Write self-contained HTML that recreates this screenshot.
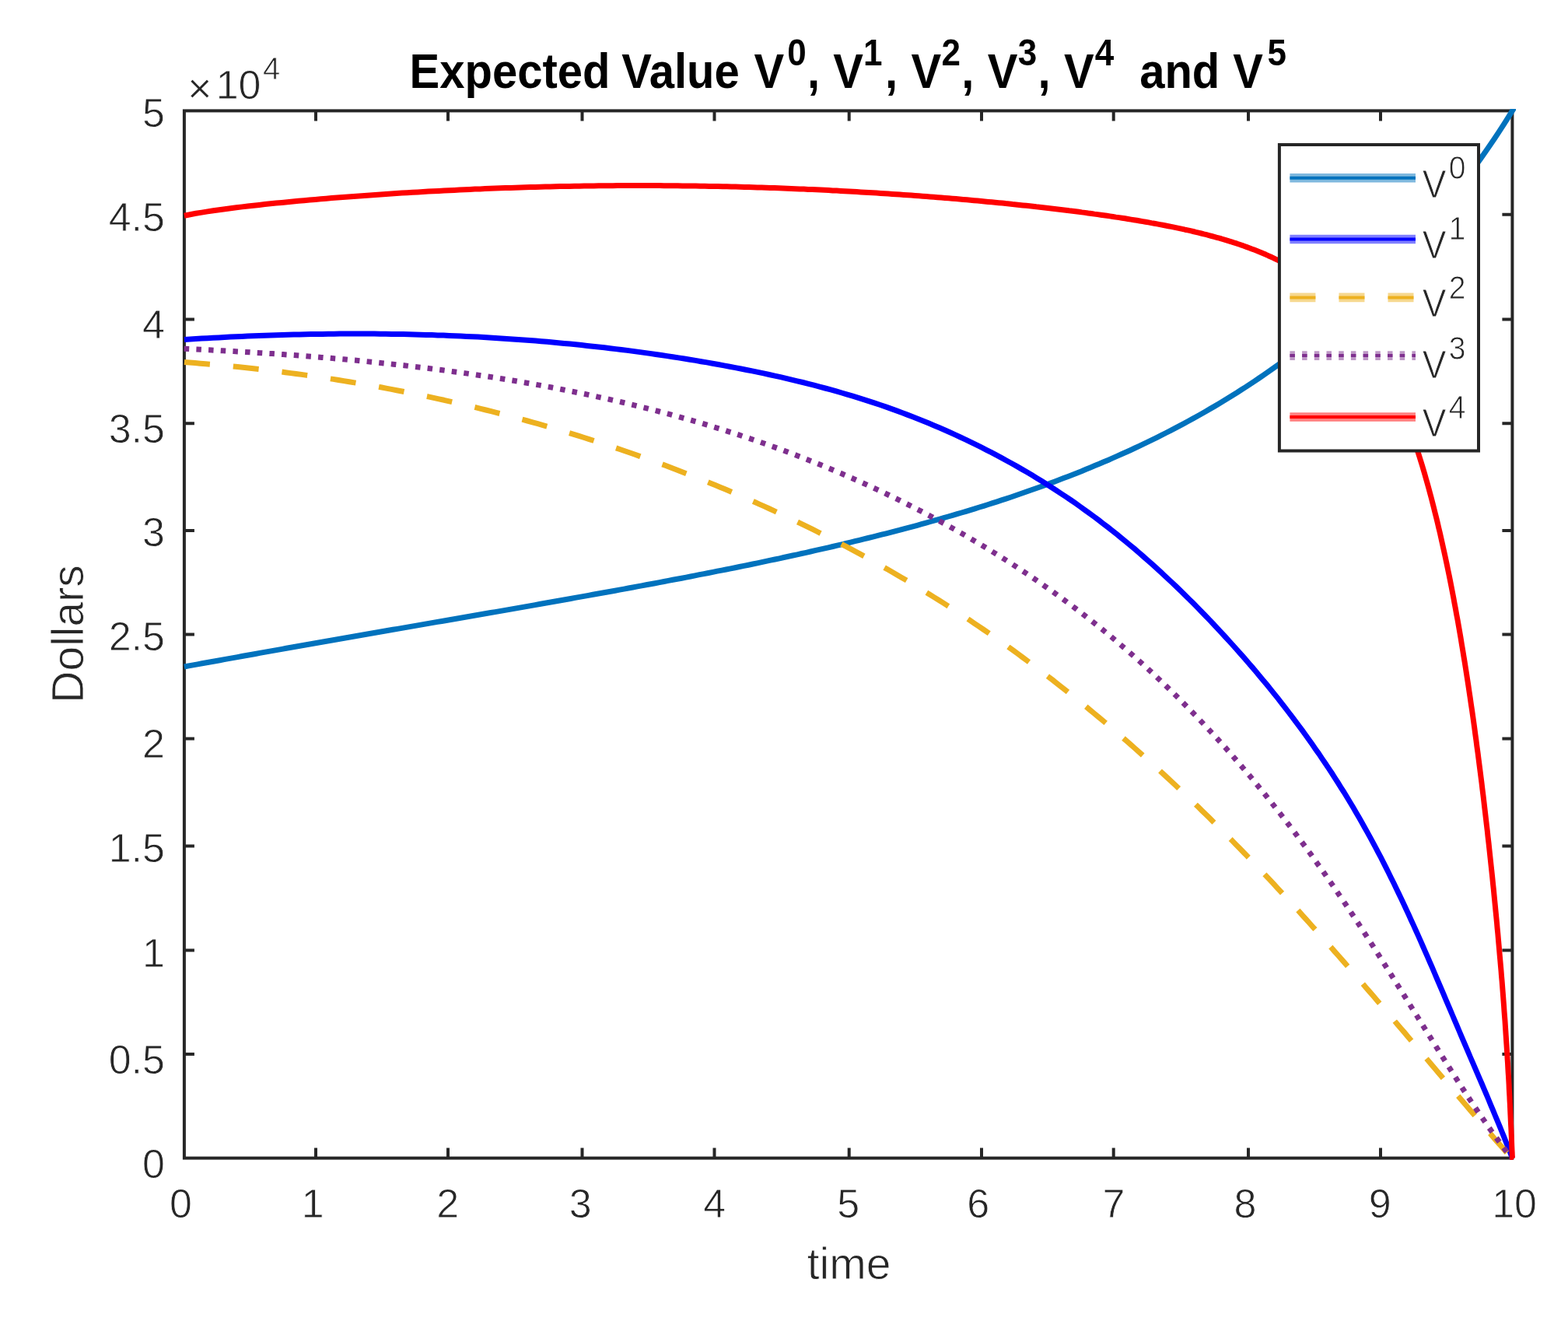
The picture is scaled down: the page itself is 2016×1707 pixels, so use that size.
<!DOCTYPE html>
<html lang="en"><head><meta charset="utf-8"><title>Expected Value</title>
<style>
html,body{margin:0;padding:0;background:#fff;}
body{width:2016px;height:1707px;overflow:hidden;}
svg{display:block;filter:blur(0.7px);}
text{font-family:"Liberation Sans",Arial,Helvetica,sans-serif;}
.tk{font-size:52px;fill:#262626;stroke:#fff;stroke-width:0.8px;}
.lb{font-size:57px;fill:#262626;stroke:#fff;stroke-width:0.8px;}
.ti{font-size:58px;font-weight:bold;fill:#000;}
.ts{font-size:44px;font-weight:bold;fill:#000;}
.lg{font-size:46px;fill:#262626;stroke:#fff;stroke-width:0.8px;}
.ls{font-size:39px;fill:#262626;stroke:#fff;stroke-width:0.8px;}
</style></head><body>
<svg width="2016" height="1707" viewBox="0 0 2016 1707">
<rect width="2016" height="1707" fill="#fff"/>
<defs><clipPath id="cp"><rect x="234.9" y="139.9" width="1714.0" height="1351.2"/></clipPath></defs>

<rect x="236.9" y="142.4" width="1707.5" height="1346.2" fill="none" stroke="#262626" stroke-width="4.0"/>
<path d="M406.0,1488.6 v-13 M406.0,142.4 v13 M576.0,1488.6 v-13 M576.0,142.4 v13 M748.5,1488.6 v-13 M748.5,142.4 v13 M918.5,1488.6 v-13 M918.5,142.4 v13 M1091.7,1488.6 v-13 M1091.7,142.4 v13 M1262.0,1488.6 v-13 M1262.0,142.4 v13 M1431.7,1488.6 v-13 M1431.7,142.4 v13 M1605.0,1488.6 v-13 M1605.0,142.4 v13 M1775.0,1488.6 v-13 M1775.0,142.4 v13 M236.9,275.7 h13 M1944.4,275.7 h-13 M236.9,410.5 h13 M1944.4,410.5 h-13 M236.9,544.2 h13 M1944.4,544.2 h-13 M236.9,682.0 h13 M1944.4,682.0 h-13 M236.9,815.6 h13 M1944.4,815.6 h-13 M236.9,949.5 h13 M1944.4,949.5 h-13 M236.9,1087.5 h13 M1944.4,1087.5 h-13 M236.9,1221.5 h13 M1944.4,1221.5 h-13 M236.9,1355.0 h13 M1944.4,1355.0 h-13" fill="none" stroke="#262626" stroke-width="4.0"/>
<g clip-path="url(#cp)" fill="none" stroke-linejoin="round">
<path d="M236.9,857.0 L242.6,855.9 L248.3,854.9 L254.0,853.9 L259.7,852.8 L265.5,851.8 L271.2,850.7 L276.9,849.7 L282.6,848.7 L288.3,847.6 L294.0,846.6 L299.7,845.6 L305.4,844.6 L311.1,843.5 L316.8,842.5 L322.6,841.5 L328.3,840.5 L334.0,839.4 L339.7,838.4 L345.4,837.4 L351.1,836.4 L356.8,835.4 L362.5,834.4 L368.2,833.3 L374.0,832.3 L379.7,831.3 L385.4,830.3 L391.1,829.3 L396.8,828.3 L402.5,827.3 L408.2,826.3 L413.9,825.3 L419.6,824.3 L425.4,823.3 L431.1,822.3 L436.8,821.3 L442.5,820.3 L448.2,819.3 L453.9,818.3 L459.6,817.3 L465.3,816.3 L471.0,815.3 L476.7,814.3 L482.5,813.3 L488.2,812.3 L493.9,811.3 L499.6,810.3 L505.3,809.3 L511.0,808.4 L516.7,807.4 L522.4,806.4 L528.1,805.4 L533.9,804.4 L539.6,803.4 L545.3,802.4 L551.0,801.4 L556.7,800.4 L562.4,799.4 L568.1,798.5 L573.8,797.5 L579.5,796.5 L585.3,795.5 L591.0,794.5 L596.7,793.5 L602.4,792.5 L608.1,791.5 L613.8,790.5 L619.5,789.5 L625.2,788.5 L630.9,787.5 L636.6,786.6 L642.4,785.6 L648.1,784.6 L653.8,783.6 L659.5,782.6 L665.2,781.6 L670.9,780.6 L676.6,779.6 L682.3,778.6 L688.0,777.6 L693.8,776.5 L699.5,775.5 L705.2,774.5 L710.9,773.5 L716.6,772.5 L722.3,771.5 L728.0,770.5 L733.7,769.5 L739.4,768.4 L745.2,767.4 L750.9,766.4 L756.6,765.4 L762.3,764.3 L768.0,763.3 L773.7,762.3 L779.4,761.2 L785.1,760.2 L790.8,759.2 L796.5,758.1 L802.3,757.1 L808.0,756.0 L813.7,755.0 L819.4,753.9 L825.1,752.9 L830.8,751.8 L836.5,750.7 L842.2,749.7 L847.9,748.6 L853.7,747.5 L859.4,746.4 L865.1,745.3 L870.8,744.3 L876.5,743.2 L882.2,742.1 L887.9,741.0 L893.6,739.9 L899.3,738.7 L905.1,737.6 L910.8,736.5 L916.5,735.4 L922.2,734.2 L927.9,733.1 L933.6,732.0 L939.3,730.8 L945.0,729.7 L950.7,728.5 L956.4,727.3 L962.2,726.2 L967.9,725.0 L973.6,723.8 L979.3,722.6 L985.0,721.4 L990.7,720.2 L996.4,719.0 L1002.1,717.8 L1007.8,716.5 L1013.6,715.3 L1019.3,714.0 L1025.0,712.8 L1030.7,711.5 L1036.4,710.3 L1042.1,709.0 L1047.8,707.7 L1053.5,706.4 L1059.2,705.1 L1065.0,703.8 L1070.7,702.5 L1076.4,701.1 L1082.1,699.8 L1087.8,698.4 L1093.5,697.1 L1099.2,695.7 L1104.9,694.3 L1110.6,692.9 L1116.3,691.5 L1122.1,690.1 L1127.8,688.7 L1133.5,687.2 L1139.2,685.8 L1144.9,684.3 L1150.6,682.8 L1156.3,681.4 L1162.0,679.8 L1167.7,678.3 L1173.5,676.8 L1179.2,675.3 L1184.9,673.7 L1190.6,672.1 L1196.3,670.5 L1202.0,668.9 L1207.7,667.3 L1213.4,665.7 L1219.1,664.0 L1224.9,662.4 L1230.6,660.7 L1236.3,659.0 L1242.0,657.3 L1247.7,655.6 L1253.4,653.8 L1259.1,652.0 L1264.8,650.3 L1270.5,648.5 L1276.2,646.6 L1282.0,644.8 L1287.7,642.9 L1293.4,641.1 L1299.1,639.2 L1304.8,637.2 L1310.5,635.3 L1316.2,633.3 L1321.9,631.3 L1327.6,629.3 L1333.4,627.3 L1339.1,625.2 L1344.8,623.2 L1350.5,621.1 L1356.2,618.9 L1361.9,616.8 L1367.6,614.6 L1373.3,612.4 L1379.0,610.2 L1384.8,607.9 L1390.5,605.7 L1396.2,603.3 L1401.9,601.0 L1407.6,598.6 L1413.3,596.3 L1419.0,593.8 L1424.7,591.4 L1430.4,588.9 L1436.1,586.4 L1441.9,583.8 L1447.6,581.3 L1453.3,578.7 L1459.0,576.0 L1464.7,573.3 L1470.4,570.6 L1476.1,567.9 L1481.8,565.1 L1487.5,562.3 L1493.3,559.4 L1499.0,556.5 L1504.7,553.6 L1510.4,550.6 L1516.1,547.6 L1521.8,544.6 L1527.5,541.5 L1533.2,538.4 L1538.9,535.2 L1544.7,532.0 L1550.4,528.7 L1556.1,525.4 L1561.8,522.1 L1567.5,518.7 L1573.2,515.3 L1578.9,511.8 L1584.6,508.2 L1590.3,504.7 L1596.0,501.0 L1601.8,497.4 L1607.5,493.6 L1613.2,489.8 L1618.9,486.0 L1624.6,482.1 L1630.3,478.2 L1636.0,474.2 L1641.7,470.1 L1647.4,466.0 L1653.2,461.8 L1658.9,457.6 L1664.6,453.3 L1670.3,449.0 L1676.0,444.5 L1681.7,440.1 L1687.4,435.5 L1693.1,430.9 L1698.8,426.2 L1704.6,421.5 L1710.3,416.7 L1716.0,411.8 L1721.7,406.8 L1727.4,401.8 L1733.1,396.7 L1738.8,391.5 L1744.5,386.3 L1750.2,381.0 L1755.9,375.6 L1761.7,370.1 L1767.4,364.5 L1773.1,358.9 L1778.8,353.2 L1784.5,347.3 L1790.2,341.4 L1795.9,335.5 L1801.6,329.4 L1807.3,323.2 L1813.1,317.0 L1818.8,310.6 L1824.5,304.2 L1830.2,297.6 L1835.9,291.0 L1841.6,284.2 L1847.3,277.4 L1853.0,270.4 L1858.7,263.4 L1864.5,256.2 L1870.2,249.0 L1875.9,241.6 L1881.6,234.1 L1887.3,226.5 L1893.0,218.7 L1898.7,210.9 L1904.4,202.9 L1910.1,194.7 L1915.8,186.5 L1921.6,178.0 L1927.3,169.4 L1933.0,160.6 L1938.7,151.6 L1944.4,142.4 L1947.4,137.6" stroke="#0072BD" stroke-width="7.0"/>
<path d="M237.0,436.5 L244.4,436.0 L251.8,435.6 L259.2,435.1 L266.6,434.7 L273.9,434.3 L281.3,433.9 L288.7,433.5 L296.1,433.1 L303.5,432.8 L310.9,432.4 L318.3,432.1 L325.7,431.8 L333.1,431.5 L340.5,431.2 L347.9,431.0 L355.3,430.7 L362.7,430.5 L370.2,430.3 L377.6,430.1 L385.0,429.9 L392.4,429.7 L399.8,429.6 L407.2,429.5 L414.6,429.4 L422.0,429.3 L429.4,429.2 L436.8,429.1 L444.3,429.1 L451.7,429.1 L459.1,429.1 L466.5,429.1 L473.9,429.1 L481.3,429.1 L488.7,429.2 L496.1,429.3 L503.5,429.4 L511.0,429.5 L518.4,429.6 L525.8,429.8 L533.2,430.0 L540.6,430.2 L548.0,430.4 L555.4,430.6 L562.8,430.9 L570.2,431.1 L577.6,431.4 L585.0,431.7 L592.4,432.0 L599.8,432.4 L607.2,432.8 L614.6,433.1 L622.0,433.5 L629.4,434.0 L636.8,434.4 L644.2,434.9 L651.6,435.4 L659.0,435.9 L666.4,436.4 L673.8,436.9 L681.1,437.5 L688.5,438.1 L695.9,438.7 L703.3,439.3 L710.7,440.0 L718.0,440.7 L725.4,441.4 L732.8,442.1 L740.2,442.8 L747.5,443.6 L754.9,444.4 L762.3,445.2 L769.6,446.0 L777.0,446.8 L784.3,447.7 L791.7,448.6 L799.0,449.5 L806.4,450.4 L813.7,451.4 L821.1,452.4 L828.4,453.4 L835.7,454.4 L843.1,455.5 L850.4,456.5 L857.7,457.6 L865.0,458.7 L872.4,459.9 L879.7,461.0 L887.0,462.2 L894.3,463.4 L901.6,464.7 L908.9,465.9 L916.2,467.2 L923.5,468.5 L930.8,469.9 L938.1,471.2 L945.4,472.6 L952.6,474.0 L959.9,475.5 L967.2,476.9 L974.4,478.4 L981.7,479.9 L988.9,481.5 L996.2,483.1 L1003.4,484.7 L1010.6,486.4 L1017.8,488.1 L1025.0,489.8 L1032.2,491.5 L1039.4,493.3 L1046.6,495.2 L1053.8,497.1 L1060.9,499.0 L1068.1,500.9 L1075.2,502.9 L1082.3,505.0 L1089.4,507.1 L1096.5,509.2 L1103.6,511.4 L1110.7,513.6 L1117.7,515.9 L1124.7,518.2 L1131.8,520.5 L1138.8,522.9 L1145.7,525.4 L1152.7,527.9 L1159.7,530.5 L1166.6,533.1 L1173.5,535.8 L1180.4,538.5 L1187.3,541.3 L1194.2,544.1 L1201.0,546.9 L1207.8,549.8 L1214.6,552.8 L1221.4,555.8 L1228.2,558.9 L1234.9,562.0 L1241.6,565.1 L1248.3,568.4 L1255.0,571.6 L1261.6,574.9 L1268.2,578.3 L1274.8,581.7 L1281.4,585.1 L1287.9,588.6 L1294.4,592.2 L1300.9,595.8 L1307.4,599.4 L1313.8,603.1 L1320.2,606.8 L1326.6,610.6 L1332.9,614.4 L1339.2,618.3 L1345.5,622.2 L1351.7,626.2 L1357.9,630.2 L1364.1,634.3 L1370.3,638.4 L1376.4,642.5 L1382.5,646.7 L1388.5,651.0 L1394.5,655.3 L1400.5,659.6 L1406.5,664.0 L1412.4,668.4 L1418.2,672.9 L1424.1,677.4 L1429.9,682.0 L1435.7,686.6 L1441.4,691.2 L1447.1,695.9 L1452.8,700.6 L1458.5,705.3 L1464.1,710.1 L1469.7,715.0 L1475.2,719.8 L1480.7,724.7 L1486.2,729.7 L1491.7,734.7 L1497.1,739.7 L1502.5,744.7 L1507.9,749.8 L1513.3,754.9 L1518.6,760.0 L1523.9,765.2 L1529.1,770.4 L1534.4,775.6 L1539.6,780.9 L1544.8,786.2 L1549.9,791.5 L1555.1,796.9 L1560.2,802.2 L1565.2,807.6 L1570.3,813.1 L1575.3,818.5 L1580.3,824.0 L1585.3,829.5 L1590.2,835.0 L1595.2,840.6 L1600.1,846.1 L1604.9,851.7 L1609.8,857.4 L1614.6,863.0 L1619.3,868.7 L1624.1,874.4 L1628.8,880.1 L1633.5,885.9 L1638.1,891.6 L1642.8,897.4 L1647.4,903.3 L1651.9,909.1 L1656.4,915.0 L1660.9,920.9 L1665.4,926.8 L1669.8,932.8 L1674.2,938.7 L1678.6,944.7 L1682.9,950.7 L1687.2,956.8 L1691.4,962.9 L1695.7,968.9 L1699.8,975.1 L1704.0,981.2 L1708.1,987.4 L1712.2,993.5 L1716.2,999.8 L1720.2,1006.0 L1724.1,1012.3 L1728.1,1018.5 L1731.9,1024.8 L1735.8,1031.2 L1739.6,1037.5 L1743.3,1043.9 L1747.0,1050.3 L1750.7,1056.7 L1754.3,1063.2 L1757.9,1069.6 L1761.5,1076.1 L1765.0,1082.6 L1768.5,1089.1 L1771.9,1095.7 L1775.4,1102.2 L1778.8,1108.8 L1782.1,1115.4 L1785.4,1122.0 L1788.7,1128.7 L1792.0,1135.3 L1795.2,1142.0 L1798.4,1148.6 L1801.6,1155.3 L1804.8,1162.0 L1807.9,1168.7 L1811.1,1175.5 L1814.1,1182.2 L1817.2,1188.9 L1820.3,1195.7 L1823.3,1202.4 L1826.3,1209.2 L1829.3,1216.0 L1832.3,1222.8 L1835.3,1229.6 L1838.2,1236.4 L1841.2,1243.2 L1844.1,1250.0 L1847.0,1256.8 L1849.9,1263.6 L1852.8,1270.4 L1855.7,1277.2 L1858.6,1284.1 L1861.5,1290.9 L1864.4,1297.7 L1867.3,1304.5 L1870.2,1311.3 L1873.1,1318.2 L1876.0,1325.0 L1878.9,1331.8 L1881.8,1338.6 L1884.7,1345.4 L1887.6,1352.2 L1890.5,1359.0 L1893.5,1365.8 L1896.4,1372.6 L1899.3,1379.4 L1902.2,1386.2 L1905.2,1393.0 L1908.1,1399.8 L1911.0,1406.7 L1913.9,1413.5 L1916.7,1420.3 L1919.6,1427.1 L1922.4,1434.0 L1925.3,1440.8 L1928.1,1447.6 L1930.9,1454.5 L1933.7,1461.4 L1936.4,1468.2 L1939.2,1475.1 L1941.9,1482.0 L1944.6,1488.9" stroke="#0000FF" stroke-width="7.0"/>
<path d="M237.0,465.6 L243.9,466.1 L250.7,466.6 L257.6,467.2 L264.4,467.8 L271.3,468.3 L278.1,468.9 L285.0,469.6 L291.8,470.2 L298.7,470.9 L305.5,471.6 L312.4,472.3 L319.2,473.0 L326.0,473.8 L332.9,474.5 L339.7,475.3 L346.6,476.1 L353.4,477.0 L360.2,477.8 L367.1,478.7 L373.9,479.6 L380.7,480.5 L387.6,481.4 L394.4,482.4 L401.2,483.3 L408.1,484.3 L414.9,485.3 L421.7,486.4 L428.5,487.4 L435.3,488.5 L442.1,489.6 L449.0,490.7 L455.8,491.9 L462.6,493.0 L469.4,494.2 L476.2,495.4 L483.0,496.6 L489.7,497.8 L496.5,499.1 L503.3,500.4 L510.1,501.7 L516.9,503.0 L523.6,504.4 L530.4,505.7 L537.2,507.1 L543.9,508.5 L550.7,509.9 L557.4,511.4 L564.2,512.9 L570.9,514.3 L577.7,515.9 L584.4,517.4 L591.1,518.9 L597.9,520.5 L604.6,522.1 L611.3,523.7 L618.0,525.4 L624.7,527.0 L631.4,528.7 L638.1,530.4 L644.8,532.1 L651.5,533.9 L658.2,535.6 L664.8,537.4 L671.5,539.2 L678.2,541.0 L684.8,542.9 L691.5,544.7 L698.1,546.6 L704.7,548.5 L711.4,550.5 L718.0,552.4 L724.6,554.4 L731.2,556.4 L737.8,558.4 L744.4,560.4 L751.0,562.5 L757.6,564.6 L764.1,566.7 L770.7,568.8 L777.3,571.0 L783.8,573.1 L790.4,575.3 L796.9,577.5 L803.4,579.7 L810.0,582.0 L816.5,584.3 L823.0,586.6 L829.5,588.9 L836.0,591.2 L842.4,593.6 L848.9,595.9 L855.4,598.3 L861.8,600.8 L868.3,603.2 L874.7,605.7 L881.1,608.2 L887.6,610.7 L894.0,613.2 L900.4,615.8 L906.8,618.3 L913.1,620.9 L919.5,623.5 L925.9,626.2 L932.2,628.8 L938.6,631.5 L944.9,634.2 L951.2,637.0 L957.6,639.7 L963.9,642.5 L970.2,645.3 L976.4,648.1 L982.7,650.9 L989.0,653.8 L995.2,656.6 L1001.5,659.5 L1007.7,662.5 L1013.9,665.4 L1020.1,668.4 L1026.3,671.4 L1032.5,674.4 L1038.7,677.4 L1044.9,680.4 L1051.0,683.5 L1057.2,686.6 L1063.3,689.7 L1069.4,692.9 L1075.5,696.0 L1081.6,699.2 L1087.7,702.4 L1093.8,705.7 L1099.8,708.9 L1105.9,712.2 L1111.9,715.5 L1118.0,718.8 L1124.0,722.1 L1130.0,725.5 L1135.9,728.9 L1141.9,732.3 L1147.9,735.7 L1153.8,739.2 L1159.8,742.7 L1165.7,746.1 L1171.6,749.7 L1177.5,753.2 L1183.4,756.8 L1189.2,760.4 L1195.1,764.0 L1200.9,767.6 L1206.8,771.2 L1212.6,774.9 L1218.4,778.6 L1224.1,782.3 L1229.9,786.1 L1235.7,789.8 L1241.4,793.6 L1247.1,797.4 L1252.8,801.3 L1258.5,805.1 L1264.2,809.0 L1269.9,812.9 L1275.5,816.8 L1281.2,820.8 L1286.8,824.7 L1292.4,828.7 L1298.0,832.7 L1303.6,836.7 L1309.2,840.8 L1314.7,844.9 L1320.3,849.0 L1325.8,853.1 L1331.3,857.2 L1336.8,861.3 L1342.3,865.5 L1347.7,869.7 L1353.2,873.9 L1358.6,878.2 L1364.0,882.4 L1369.5,886.7 L1374.9,891.0 L1380.2,895.3 L1385.6,899.6 L1391.0,903.9 L1396.3,908.3 L1401.6,912.7 L1406.9,917.1 L1412.2,921.5 L1417.5,925.9 L1422.8,930.4 L1428.1,934.8 L1433.3,939.3 L1438.5,943.8 L1443.7,948.3 L1449.0,952.9 L1454.1,957.4 L1459.3,962.0 L1464.5,966.6 L1469.6,971.2 L1474.8,975.8 L1479.9,980.4 L1485.0,985.1 L1490.1,989.7 L1495.2,994.4 L1500.3,999.1 L1505.3,1003.8 L1510.4,1008.5 L1515.4,1013.3 L1520.4,1018.0 L1525.4,1022.8 L1530.4,1027.5 L1535.4,1032.3 L1540.4,1037.1 L1545.3,1042.0 L1550.3,1046.8 L1555.2,1051.6 L1560.1,1056.5 L1565.0,1061.3 L1569.9,1066.2 L1574.8,1071.1 L1579.6,1076.0 L1584.5,1080.9 L1589.3,1085.9 L1594.2,1090.8 L1599.0,1095.7 L1603.8,1100.7 L1608.6,1105.7 L1613.4,1110.7 L1618.1,1115.6 L1622.9,1120.7 L1627.6,1125.7 L1632.4,1130.7 L1637.1,1135.7 L1641.8,1140.8 L1646.5,1145.8 L1651.2,1150.9 L1655.8,1155.9 L1660.5,1161.0 L1665.1,1166.1 L1669.8,1171.2 L1674.4,1176.3 L1679.0,1181.4 L1683.6,1186.5 L1688.2,1191.7 L1692.8,1196.8 L1697.4,1202.0 L1702.0,1207.1 L1706.5,1212.3 L1711.1,1217.4 L1715.6,1222.6 L1720.2,1227.8 L1724.7,1232.9 L1729.3,1238.1 L1733.8,1243.3 L1738.3,1248.5 L1742.8,1253.7 L1747.3,1258.9 L1751.8,1264.1 L1756.3,1269.4 L1760.8,1274.6 L1765.3,1279.8 L1769.7,1285.0 L1774.2,1290.3 L1778.7,1295.5 L1783.2,1300.7 L1787.6,1306.0 L1792.1,1311.2 L1796.5,1316.5 L1801.0,1321.7 L1805.5,1326.9 L1809.9,1332.2 L1814.4,1337.5 L1818.8,1342.7 L1823.3,1348.0 L1827.7,1353.2 L1832.1,1358.5 L1836.6,1363.7 L1841.0,1369.0 L1845.5,1374.2 L1849.9,1379.5 L1854.4,1384.8 L1858.8,1390.0 L1863.3,1395.3 L1867.7,1400.5 L1872.2,1405.8 L1876.6,1411.0 L1881.1,1416.3 L1885.6,1421.5 L1890.0,1426.8 L1894.5,1432.0 L1899.0,1437.2 L1903.5,1442.5 L1908.0,1447.7 L1912.4,1452.9 L1916.9,1458.1 L1921.4,1463.4 L1925.9,1468.6 L1930.5,1473.8 L1935.0,1479.0 L1939.5,1484.2 L1944.0,1489.4" stroke="#EDB120" stroke-width="7.0" stroke-dasharray="33 30.05"/>
<path d="M236.7,448.3 L243.8,448.6 L250.8,449.0 L257.9,449.3 L265.0,449.7 L272.0,450.0 L279.1,450.4 L286.2,450.8 L293.2,451.2 L300.3,451.6 L307.4,452.0 L314.5,452.4 L321.5,452.8 L328.6,453.3 L335.7,453.7 L342.8,454.2 L349.9,454.6 L356.9,455.1 L364.0,455.6 L371.1,456.1 L378.2,456.6 L385.3,457.2 L392.3,457.7 L399.4,458.3 L406.5,458.8 L413.6,459.4 L420.7,460.0 L427.7,460.6 L434.8,461.2 L441.9,461.8 L449.0,462.5 L456.1,463.1 L463.1,463.8 L470.2,464.5 L477.3,465.2 L484.4,465.9 L491.4,466.7 L498.5,467.4 L505.6,468.2 L512.6,469.0 L519.7,469.7 L526.8,470.6 L533.8,471.4 L540.9,472.2 L547.9,473.1 L555.0,474.0 L562.0,474.9 L569.1,475.8 L576.1,476.7 L583.2,477.7 L590.2,478.6 L597.3,479.6 L604.3,480.6 L611.3,481.6 L618.3,482.7 L625.4,483.7 L632.4,484.8 L639.4,485.9 L646.4,487.0 L653.4,488.2 L660.4,489.3 L667.4,490.5 L674.4,491.7 L681.4,492.9 L688.4,494.2 L695.4,495.4 L702.4,496.7 L709.4,498.0 L716.3,499.3 L723.3,500.7 L730.2,502.1 L737.2,503.5 L744.2,504.9 L751.1,506.3 L758.0,507.8 L765.0,509.3 L771.9,510.8 L778.8,512.3 L785.7,513.9 L792.6,515.4 L799.6,517.0 L806.5,518.7 L813.3,520.3 L820.2,522.0 L827.1,523.7 L834.0,525.4 L840.8,527.2 L847.7,529.0 L854.6,530.8 L861.4,532.6 L868.2,534.5 L875.1,536.4 L881.9,538.3 L888.7,540.2 L895.5,542.2 L902.3,544.2 L909.1,546.2 L915.9,548.3 L922.7,550.3 L929.5,552.4 L936.2,554.6 L943.0,556.7 L949.7,558.9 L956.5,561.2 L963.2,563.4 L969.9,565.7 L976.6,568.0 L983.3,570.3 L990.0,572.7 L996.7,575.1 L1003.4,577.5 L1010.0,580.0 L1016.7,582.5 L1023.3,585.0 L1030.0,587.6 L1036.6,590.2 L1043.2,592.8 L1049.8,595.4 L1056.4,598.1 L1063.0,600.8 L1069.5,603.5 L1076.1,606.3 L1082.6,609.0 L1089.1,611.9 L1095.7,614.7 L1102.2,617.6 L1108.6,620.5 L1115.1,623.4 L1121.6,626.4 L1128.0,629.4 L1134.5,632.4 L1140.9,635.5 L1147.3,638.6 L1153.7,641.7 L1160.0,644.9 L1166.4,648.0 L1172.7,651.2 L1179.1,654.5 L1185.4,657.7 L1191.7,661.0 L1198.0,664.4 L1204.2,667.7 L1210.5,671.1 L1216.7,674.5 L1222.9,678.0 L1229.1,681.5 L1235.3,685.0 L1241.4,688.5 L1247.6,692.1 L1253.7,695.7 L1259.8,699.3 L1265.9,703.0 L1271.9,706.6 L1278.0,710.4 L1284.0,714.1 L1290.0,717.9 L1296.0,721.7 L1302.0,725.5 L1307.9,729.4 L1313.8,733.3 L1319.7,737.2 L1325.6,741.2 L1331.5,745.2 L1337.3,749.2 L1343.1,753.3 L1348.9,757.3 L1354.7,761.4 L1360.4,765.6 L1366.2,769.8 L1371.9,774.0 L1377.5,778.2 L1383.2,782.4 L1388.8,786.7 L1394.4,791.1 L1400.0,795.4 L1405.6,799.8 L1411.1,804.2 L1416.6,808.6 L1422.1,813.1 L1427.6,817.6 L1433.0,822.1 L1438.4,826.7 L1443.8,831.3 L1449.2,835.9 L1454.5,840.6 L1459.8,845.3 L1465.1,850.0 L1470.3,854.7 L1475.6,859.5 L1480.8,864.3 L1485.9,869.1 L1491.1,874.0 L1496.2,878.8 L1501.3,883.8 L1506.4,888.7 L1511.4,893.6 L1516.5,898.6 L1521.5,903.7 L1526.4,908.7 L1531.4,913.8 L1536.3,918.9 L1541.2,924.0 L1546.1,929.1 L1551.0,934.3 L1555.8,939.5 L1560.6,944.7 L1565.4,949.9 L1570.1,955.2 L1574.9,960.4 L1579.6,965.7 L1584.3,971.1 L1588.9,976.4 L1593.6,981.8 L1598.2,987.2 L1602.8,992.6 L1607.4,998.0 L1611.9,1003.5 L1616.4,1008.9 L1620.9,1014.4 L1625.4,1019.9 L1629.9,1025.5 L1634.3,1031.0 L1638.7,1036.6 L1643.1,1042.2 L1647.5,1047.8 L1651.8,1053.4 L1656.2,1059.0 L1660.5,1064.7 L1664.8,1070.3 L1669.0,1076.0 L1673.3,1081.7 L1677.5,1087.4 L1681.7,1093.2 L1685.9,1098.9 L1690.0,1104.7 L1694.1,1110.5 L1698.3,1116.2 L1702.4,1122.0 L1706.4,1127.9 L1710.5,1133.7 L1714.5,1139.5 L1718.5,1145.4 L1722.5,1151.3 L1726.5,1157.1 L1730.5,1163.0 L1734.4,1168.9 L1738.3,1174.8 L1742.3,1180.7 L1746.2,1186.7 L1750.0,1192.6 L1753.9,1198.6 L1757.8,1204.5 L1761.6,1210.5 L1765.5,1216.4 L1769.3,1222.4 L1773.1,1228.4 L1776.9,1234.4 L1780.7,1240.4 L1784.5,1246.4 L1788.3,1252.4 L1792.1,1258.4 L1795.8,1264.4 L1799.6,1270.4 L1803.4,1276.4 L1807.1,1282.4 L1810.9,1288.5 L1814.6,1294.5 L1818.4,1300.5 L1822.2,1306.5 L1825.9,1312.5 L1829.7,1318.6 L1833.4,1324.6 L1837.2,1330.6 L1840.9,1336.6 L1844.7,1342.6 L1848.5,1348.7 L1852.2,1354.7 L1856.0,1360.7 L1859.8,1366.7 L1863.6,1372.7 L1867.4,1378.7 L1871.2,1384.7 L1875.0,1390.6 L1878.9,1396.6 L1882.7,1402.5 L1886.6,1408.5 L1890.5,1414.4 L1894.5,1420.3 L1898.4,1426.2 L1902.4,1432.0 L1906.4,1437.9 L1910.4,1443.7 L1914.5,1449.5 L1918.6,1455.3 L1922.7,1461.0 L1926.9,1466.7 L1931.1,1472.4 L1935.4,1478.1 L1939.7,1483.7 L1944.0,1489.3" stroke="#7E2F8E" stroke-width="7.0" stroke-dasharray="6.5 9.2"/>
<path d="M236.9,277.2 L244.4,275.7 L251.9,274.3 L259.4,273.1 L266.9,271.9 L274.3,270.7 L281.7,269.7 L289.2,268.7 L296.5,267.7 L303.9,266.8 L311.3,265.9 L318.6,265.0 L325.9,264.2 L333.2,263.4 L340.5,262.6 L347.8,261.8 L355.0,261.1 L362.3,260.4 L369.5,259.7 L376.7,259.0 L383.9,258.3 L391.0,257.7 L398.1,257.0 L405.3,256.4 L412.4,255.8 L419.5,255.2 L426.5,254.6 L433.6,254.0 L440.6,253.5 L447.6,252.9 L454.6,252.4 L461.6,251.9 L468.6,251.4 L475.5,250.9 L482.4,250.4 L489.3,249.9 L496.2,249.4 L503.1,249.0 L510.0,248.5 L516.8,248.1 L523.6,247.7 L530.4,247.3 L537.2,246.9 L544.0,246.5 L550.7,246.1 L557.4,245.7 L564.2,245.4 L570.9,245.0 L577.5,244.7 L584.2,244.4 L590.8,244.0 L597.5,243.7 L604.1,243.4 L610.6,243.1 L617.2,242.9 L623.8,242.6 L630.3,242.3 L636.8,242.1 L643.3,241.8 L649.8,241.6 L656.3,241.4 L662.7,241.2 L669.1,241.0 L675.6,240.8 L681.9,240.6 L688.3,240.4 L694.7,240.2 L701.0,240.1 L707.3,239.9 L713.6,239.8 L719.9,239.6 L726.2,239.5 L732.5,239.4 L738.7,239.3 L744.9,239.2 L751.1,239.1 L757.3,239.0 L763.5,238.9 L769.6,238.8 L775.7,238.8 L781.9,238.7 L787.9,238.7 L794.0,238.6 L800.1,238.6 L806.1,238.6 L812.2,238.6 L818.2,238.6 L824.2,238.6 L830.1,238.6 L836.1,238.6 L842.0,238.6 L847.9,238.6 L853.8,238.7 L859.7,238.7 L865.6,238.7 L871.5,238.8 L877.3,238.9 L883.1,238.9 L888.9,239.0 L894.7,239.1 L900.4,239.2 L906.2,239.3 L911.9,239.4 L917.6,239.5 L923.3,239.6 L929.0,239.7 L934.7,239.8 L940.3,240.0 L945.9,240.1 L951.6,240.3 L957.1,240.4 L962.7,240.6 L968.3,240.7 L973.8,240.9 L979.3,241.1 L984.8,241.3 L990.3,241.4 L995.8,241.6 L1001.3,241.8 L1006.7,242.0 L1012.1,242.2 L1017.5,242.5 L1022.9,242.7 L1028.3,242.9 L1033.6,243.1 L1039.0,243.4 L1044.3,243.6 L1049.6,243.8 L1054.9,244.1 L1060.1,244.3 L1065.4,244.6 L1070.6,244.9 L1075.8,245.1 L1081.0,245.4 L1086.2,245.7 L1091.4,246.0 L1096.5,246.3 L1101.7,246.6 L1106.8,246.9 L1111.9,247.2 L1116.9,247.5 L1122.0,247.8 L1127.0,248.1 L1132.1,248.4 L1137.1,248.7 L1142.1,249.1 L1147.1,249.4 L1152.0,249.7 L1157.0,250.1 L1161.9,250.4 L1166.8,250.8 L1171.7,251.1 L1176.6,251.5 L1181.4,251.8 L1186.3,252.2 L1191.1,252.6 L1195.9,252.9 L1200.7,253.3 L1205.5,253.7 L1210.2,254.1 L1215.0,254.5 L1219.7,254.8 L1224.4,255.2 L1229.1,255.6 L1233.8,256.0 L1238.4,256.4 L1243.1,256.8 L1247.7,257.3 L1252.3,257.7 L1256.9,258.1 L1261.5,258.5 L1266.0,258.9 L1270.6,259.4 L1275.1,259.8 L1279.6,260.2 L1284.1,260.7 L1288.6,261.1 L1293.0,261.6 L1297.5,262.0 L1301.9,262.5 L1306.3,262.9 L1310.7,263.4 L1315.1,263.9 L1319.4,264.3 L1323.8,264.8 L1328.1,265.3 L1332.4,265.8 L1336.7,266.2 L1341.0,266.7 L1345.3,267.2 L1349.5,267.7 L1353.7,268.2 L1357.9,268.7 L1362.1,269.2 L1366.3,269.7 L1370.5,270.2 L1374.6,270.8 L1378.7,271.3 L1382.9,271.8 L1386.9,272.3 L1391.0,272.9 L1395.1,273.4 L1399.1,274.0 L1403.2,274.5 L1407.2,275.1 L1411.2,275.6 L1415.2,276.2 L1419.1,276.7 L1423.1,277.3 L1427.0,277.9 L1430.9,278.5 L1434.8,279.1 L1438.7,279.6 L1442.6,280.2 L1446.4,280.8 L1450.3,281.5 L1454.1,282.1 L1457.9,282.7 L1461.7,283.3 L1465.5,284.0 L1469.2,284.6 L1472.9,285.2 L1476.7,285.9 L1480.4,286.6 L1484.1,287.2 L1487.7,287.9 L1491.4,288.6 L1495.0,289.3 L1498.7,290.0 L1502.3,290.7 L1505.9,291.4 L1509.5,292.2 L1513.0,292.9 L1516.6,293.6 L1520.1,294.4 L1523.6,295.2 L1527.1,295.9 L1530.6,296.7 L1534.1,297.5 L1537.5,298.4 L1540.9,299.2 L1544.4,300.0 L1547.8,300.9 L1551.2,301.7 L1554.5,302.6 L1557.9,303.5 L1561.2,304.4 L1564.5,305.3 L1567.9,306.2 L1571.1,307.2 L1574.4,308.1 L1577.7,309.1 L1580.9,310.1 L1584.2,311.1 L1587.4,312.2 L1590.6,313.2 L1593.8,314.3 L1596.9,315.3 L1600.1,316.5 L1603.2,317.6 L1606.3,318.7 L1609.4,319.9 L1612.5,321.1 L1615.6,322.3 L1618.6,323.5 L1621.7,324.8 L1624.7,326.0 L1627.7,327.3 L1630.7,328.7 L1633.7,330.0 L1636.7,331.4 L1639.6,332.8 L1642.5,334.2 L1645.5,335.7 L1648.4,337.2 L1651.3,338.7 L1654.1,340.2 L1657.0,341.8 L1659.8,343.4 L1662.6,345.1 L1665.5,346.7 L1668.3,348.4 L1671.0,350.2 L1673.8,352.0 L1676.5,353.8 L1679.3,355.6 L1682.0,357.5 L1684.7,359.4 L1687.4,361.4 L1690.1,363.4 L1692.7,365.4 L1695.4,367.5 L1698.0,369.6 L1700.6,371.8 L1703.2,374.0 L1705.8,376.3 L1708.3,378.5 L1710.9,380.9 L1713.4,383.3 L1715.9,385.7 L1718.4,388.2 L1720.9,390.7 L1723.4,393.3 L1725.9,395.9 L1728.3,398.6 L1730.7,401.3 L1733.2,404.1 L1735.6,406.9 L1738.0,409.8 L1740.3,412.8 L1742.7,415.8 L1745.0,418.8 L1747.3,421.9 L1749.7,425.1 L1752.0,428.3 L1754.2,431.6 L1756.5,434.9 L1758.7,438.3 L1761.0,441.8 L1763.2,445.3 L1765.4,448.8 L1767.6,452.5 L1769.8,456.2 L1771.9,459.9 L1774.1,463.8 L1776.2,467.7 L1778.3,471.6 L1780.5,475.6 L1782.5,479.7 L1784.6,483.9 L1786.7,488.1 L1788.7,492.4 L1790.8,496.7 L1792.8,501.1 L1794.8,505.6 L1796.8,510.2 L1798.7,514.8 L1800.7,519.5 L1802.6,524.2 L1804.6,529.1 L1806.5,534.0 L1808.4,538.9 L1810.3,543.9 L1812.1,549.0 L1814.0,554.2 L1815.8,559.4 L1817.7,564.8 L1819.5,570.1 L1821.3,575.6 L1823.1,581.1 L1824.9,586.7 L1826.6,592.3 L1828.4,598.0 L1830.1,603.8 L1831.8,609.6 L1833.5,615.6 L1835.2,621.5 L1836.9,627.6 L1838.5,633.7 L1840.2,639.9 L1841.8,646.1 L1843.4,652.4 L1845.0,658.8 L1846.6,665.2 L1848.2,671.7 L1849.7,678.2 L1851.3,684.8 L1852.8,691.5 L1854.3,698.2 L1855.8,705.0 L1857.3,711.8 L1858.8,718.7 L1860.3,725.7 L1861.7,732.6 L1863.2,739.7 L1864.6,746.8 L1866.0,753.9 L1867.4,761.1 L1868.8,768.4 L1870.1,775.6 L1871.5,783.0 L1872.8,790.3 L1874.2,797.7 L1875.5,805.2 L1876.8,812.7 L1878.1,820.2 L1879.3,827.7 L1880.6,835.3 L1881.8,842.9 L1883.1,850.6 L1884.3,858.2 L1885.5,865.9 L1886.7,873.6 L1887.9,881.4 L1889.0,889.1 L1890.2,896.9 L1891.3,904.7 L1892.5,912.5 L1893.6,920.3 L1894.7,928.1 L1895.8,936.0 L1896.8,943.8 L1897.9,951.6 L1898.9,959.5 L1900.0,967.3 L1901.0,975.1 L1902.0,983.0 L1903.0,990.8 L1904.0,998.6 L1905.0,1006.4 L1905.9,1014.2 L1906.9,1022.0 L1907.8,1029.7 L1908.7,1037.5 L1909.6,1045.2 L1910.5,1052.9 L1911.4,1060.6 L1912.3,1068.2 L1913.1,1075.9 L1914.0,1083.5 L1914.8,1091.0 L1915.6,1098.5 L1916.4,1106.0 L1917.2,1113.5 L1918.0,1120.9 L1918.8,1128.3 L1919.5,1135.7 L1920.3,1143.0 L1921.0,1150.3 L1921.7,1157.5 L1922.4,1164.7 L1923.1,1171.8 L1923.8,1179.0 L1924.5,1186.0 L1925.1,1193.1 L1925.8,1200.0 L1926.4,1207.0 L1927.0,1213.9 L1927.6,1220.7 L1928.2,1227.6 L1928.8,1234.3 L1929.4,1241.1 L1930.0,1247.8 L1930.5,1254.4 L1931.1,1261.0 L1931.6,1267.6 L1932.1,1274.1 L1932.6,1280.6 L1933.1,1287.0 L1933.6,1293.4 L1934.0,1299.8 L1934.5,1306.1 L1935.0,1312.4 L1935.4,1318.6 L1935.8,1324.8 L1936.2,1330.9 L1936.6,1337.0 L1937.0,1343.0 L1937.4,1349.0 L1937.8,1354.9 L1938.1,1360.7 L1938.5,1366.5 L1938.8,1372.2 L1939.1,1377.8 L1939.5,1383.4 L1939.8,1388.8 L1940.1,1394.2 L1940.3,1399.5 L1940.6,1404.7 L1940.9,1409.8 L1941.1,1414.8 L1941.4,1419.6 L1941.6,1424.4 L1941.8,1429.0 L1942.0,1433.4 L1942.2,1437.8 L1942.4,1442.0 L1942.6,1446.0 L1942.8,1449.9 L1943.0,1453.6 L1943.1,1457.1 L1943.3,1460.5 L1943.4,1463.6 L1943.5,1466.6 L1943.6,1469.4 L1943.7,1472.1 L1943.8,1474.5 L1943.9,1476.7 L1944.0,1478.8 L1944.1,1480.6 L1944.2,1482.2 L1944.2,1483.7 L1944.3,1484.9 L1944.3,1486.0 L1944.3,1486.8 L1944.4,1487.5 L1944.4,1488.0 L1944.4,1488.4 L1944.4,1488.5 L1946.0,1489.6" stroke="#FF0000" stroke-width="7.0"/>
</g>
<text class="tk" x="232.4" y="1564.5" text-anchor="middle">0</text>
<text class="tk" x="402.3" y="1564.5" text-anchor="middle">1</text>
<text class="tk" x="575.7" y="1564.5" text-anchor="middle">2</text>
<text class="tk" x="746.2" y="1564.5" text-anchor="middle">3</text>
<text class="tk" x="918.7" y="1564.5" text-anchor="middle">4</text>
<text class="tk" x="1090.7" y="1564.5" text-anchor="middle">5</text>
<text class="tk" x="1257.8" y="1564.5" text-anchor="middle">6</text>
<text class="tk" x="1431.9" y="1564.5" text-anchor="middle">7</text>
<text class="tk" x="1600.9" y="1564.5" text-anchor="middle">8</text>
<text class="tk" x="1774.1" y="1564.5" text-anchor="middle">9</text>
<text class="tk" x="1947.1" y="1564.5" text-anchor="middle">10</text>
<text class="tk" x="212" y="1513.8" text-anchor="end">0</text>
<text class="tk" x="212" y="1379.6" text-anchor="end">0.5</text>
<text class="tk" x="212" y="1242.9" text-anchor="end">1</text>
<text class="tk" x="212" y="1107.5" text-anchor="end">1.5</text>
<text class="tk" x="212" y="973.5" text-anchor="end">2</text>
<text class="tk" x="212" y="836.0" text-anchor="end">2.5</text>
<text class="tk" x="212" y="701.9" text-anchor="end">3</text>
<text class="tk" x="212" y="568.8" text-anchor="end">3.5</text>
<text class="tk" x="212" y="434.5" text-anchor="end">4</text>
<text class="tk" x="212" y="296.7" text-anchor="end">4.5</text>
<text class="tk" x="212" y="163.1" text-anchor="end">5</text>
<text class="tk"><tspan x="241" y="132" font-size="54">×</tspan><tspan x="277.7" y="127">10</tspan><tspan x="338" y="102.2" font-size="40">4</tspan></text>
<text class="lb" x="1091.5" y="1643.5" text-anchor="middle">time</text>
<text class="lb" transform="translate(107,815) rotate(-90)" text-anchor="middle">Dollars</text>
<text class="ti" text-anchor="start" transform="scale(1,1.1)"><tspan class="ti" x="526.6" y="102.45">Expected </tspan><tspan class="ti" x="799.2" y="102.45">Value </tspan><tspan class="ti" x="969.6" y="102.45">V</tspan><tspan class="ts" x="1012.3" y="76.82">0</tspan><tspan class="ti" x="1038.1" y="102.45">, </tspan><tspan class="ti" x="1071.3" y="102.45">V</tspan><tspan class="ts" x="1110.1" y="76.82">1</tspan><tspan class="ti" x="1138.1" y="102.45">, </tspan><tspan class="ti" x="1171.6" y="102.45">V</tspan><tspan class="ts" x="1210.6" y="76.82">2</tspan><tspan class="ti" x="1236.2" y="102.45">, </tspan><tspan class="ti" x="1269.7" y="102.45">V</tspan><tspan class="ts" x="1308.8" y="76.82">3</tspan><tspan class="ti" x="1334.5" y="102.45">, </tspan><tspan class="ti" x="1368.0" y="102.45">V</tspan><tspan class="ts" x="1407.8" y="76.82">4 </tspan><tspan class="ti" x="1465.2" y="102.45">and </tspan><tspan class="ti" x="1585.2" y="102.45">V</tspan><tspan class="ts" x="1629.6" y="76.82">5</tspan></text>
<rect x="1644.9" y="186" width="256.0999999999999" height="393.5" fill="#fff" stroke="#262626" stroke-width="4.0"/>
<path d="M1658.4,228.8 H1820" fill="none" stroke="#0072BD" stroke-width="11.6" stroke-opacity="0.5"/>
<path d="M1658.4,228.8 H1820" fill="none" stroke="#0072BD" stroke-width="4.0"/>
<text text-anchor="middle" transform="scale(1,1.07)"><tspan class="lg" x="1844" y="237.29">V</tspan><tspan class="ls" x="1873.7" y="215.33">0</tspan></text>
<path d="M1658.4,307.5 H1820" fill="none" stroke="#0000FF" stroke-width="11.6" stroke-opacity="0.5"/>
<path d="M1658.4,307.5 H1820" fill="none" stroke="#0000FF" stroke-width="4.0"/>
<text text-anchor="middle" transform="scale(1,1.07)"><tspan class="lg" x="1844" y="310.28">V</tspan><tspan class="ls" x="1873.7" y="288.32">1</tspan></text>
<path d="M1658.4,382.4 H1820" fill="none" stroke="#EDB120" stroke-width="11.6" stroke-opacity="0.5" stroke-dasharray="33 30.05"/>
<path d="M1658.4,382.4 H1820" fill="none" stroke="#EDB120" stroke-width="4.0" stroke-dasharray="33 30.05"/>
<text text-anchor="middle" transform="scale(1,1.07)"><tspan class="lg" x="1844" y="380.47">V</tspan><tspan class="ls" x="1873.7" y="358.50">2</tspan></text>
<path d="M1658.4,457.1 H1820" fill="none" stroke="#7E2F8E" stroke-width="11.6" stroke-opacity="0.5" stroke-dasharray="6.5 9.2"/>
<path d="M1658.4,457.1 H1820" fill="none" stroke="#7E2F8E" stroke-width="4.0" stroke-dasharray="6.5 9.2"/>
<text text-anchor="middle" transform="scale(1,1.07)"><tspan class="lg" x="1844" y="454.21">V</tspan><tspan class="ls" x="1873.7" y="432.24">3</tspan></text>
<path d="M1658.4,536 H1820" fill="none" stroke="#FF0000" stroke-width="11.6" stroke-opacity="0.5"/>
<path d="M1658.4,536 H1820" fill="none" stroke="#FF0000" stroke-width="4.0"/>
<text text-anchor="middle" transform="scale(1,1.07)"><tspan class="lg" x="1844" y="524.39">V</tspan><tspan class="ls" x="1873.7" y="502.43">4</tspan></text>
</svg></body></html>
